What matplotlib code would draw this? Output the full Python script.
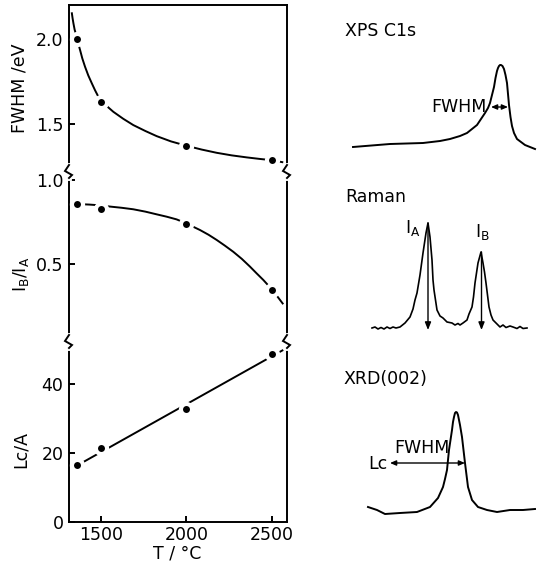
import numpy as np
import matplotlib
matplotlib.use('Agg')
import matplotlib.pyplot as plt
from matplotlib.lines import Line2D

plt.rcParams['font.family'] = ['DejaVu Sans']

# -------------------------------
# left panels: measured points (heat treatment temperature)

temp = [1360, 1500, 2000, 2500]
fwhm_ev = [2.00, 1.63, 1.37, 1.29]
ratio_ba = [0.86, 0.83, 0.74, 0.35]
lc_a = [16.6, 21.6, 32.9, 48.9]

# hand drawn trend lines
fwhm_curve_t = [1328, 1333, 1338, 1345, 1354, 1365, 1377, 1390, 1406, 1425, 1446, 1465, 1484, 1508,
                1540, 1572, 1630, 1689, 1760, 1826, 1910, 2002, 2090, 2178, 2265, 2354, 2430, 2496, 2568]
fwhm_curve_v = [2.157, 2.122, 2.092, 2.055, 2.024, 1.978, 1.935, 1.886, 1.837, 1.786, 1.739, 1.698, 1.661, 1.631,
                1.600, 1.572, 1.531, 1.494, 1.459, 1.429, 1.398, 1.372, 1.350, 1.331, 1.316, 1.304, 1.295, 1.288, 1.275]

ratio_curve_t = [1330, 1360, 1430, 1500, 1553, 1620, 1689, 1760, 1826, 1885, 1943, 1998, 2080, 2130, 2178,
                 2225, 2275, 2325, 2373, 2410, 2451, 2506, 2568]
ratio_curve_v = [0.858, 0.857, 0.854, 0.849, 0.842, 0.835, 0.826, 0.812, 0.796, 0.782, 0.766, 0.743, 0.703, 0.675,
                 0.644, 0.611, 0.574, 0.532, 0.486, 0.448, 0.407, 0.346, 0.263]

lc_line_t = [1330, 2568]
lc_line_v = [15.6, 50.0]

# -------------------------------
# right side: sketch spectra (arbitrary units)

xps_x = [13, 50, 83, 100, 110, 120, 127, 132, 137, 141, 145, 148, 150, 152, 154, 155.5, 157, 158, 159, 160,
         161, 162.5, 164, 165.5, 167, 168, 169, 170.5, 172, 174, 177, 181, 185, 190, 195]
xps_i = [13, 16, 17, 19, 21, 24, 27, 31, 35, 41, 47, 52, 57, 65, 73, 82, 89, 92, 94, 95,
         95, 94, 91, 85, 77, 66, 55, 43, 34, 27, 21, 18, 15, 13, 11]

raman_x = [12, 15, 18, 21, 24, 27, 30, 33, 36, 40, 45, 50, 53, 55, 57, 60, 63, 66, 68,
           70, 72, 73, 74, 77, 80, 83, 87, 92, 95, 98, 100, 103, 107, 109, 112, 113.5,
           115, 116.5, 118, 121, 123, 124.5, 126, 129, 131, 133, 136, 140, 143, 146,
           150, 153, 157, 160, 163, 167]
raman_i = [12, 13, 11, 12.5, 11, 13, 11.5, 13, 12, 13, 17, 23, 31, 40, 47, 65, 87, 107, 117,
           103, 80, 60, 50, 30, 24, 22, 18, 17, 15, 16.5, 15, 17, 20, 26, 33, 43,
           57, 67, 77, 88, 77, 68, 57, 33, 25, 20, 17, 13, 15, 12.5,
           14, 13, 11.5, 13.5, 11.5, 12]

xrd_x = [18, 27, 35, 50, 67, 80, 88, 93, 95, 97, 99, 100.5, 102, 103, 104, 105, 106, 107, 108, 110,
         112, 115, 118, 122, 128, 137, 147, 160, 173, 185]
xrd_i = [13, 10, 6, 7, 8, 13, 22, 33, 41, 50, 70, 80, 90, 98, 103, 107, 108, 107.5, 105, 95,
         83, 57, 33, 20, 13, 10, 8, 10, 10, 11]

# -------------------------------

W, H = 539, 571
fig = plt.figure(figsize=(W/100, H/100), dpi=100)

x_left, x_right = 69, 287
y_top, y_b1, y_b2, y_bot = 5, 171, 341, 522

def px_axes(x0, x1, y0, y1):
    return fig.add_axes([x0/W, 1-y1/H, (x1-x0)/W, (y1-y0)/H])

ax1 = px_axes(x_left, x_right, y_top, y_b1)
ax2 = px_axes(x_left, x_right, y_b1, y_b2)
ax3 = px_axes(x_left, x_right, y_b2, y_bot)

lw = 1.4
fs = 12.5

for ax in (ax1, ax2, ax3):
    ax.set_xlim(1312, 2590)
    for sp in ax.spines.values():
        sp.set_linewidth(lw)
    ax.tick_params(direction='in', length=4.5, width=lw, labelsize=fs, pad=4)
    ax.patch.set_alpha(0)
ax3.tick_params(axis='x', pad=3)

ax1.spines['bottom'].set_visible(False)
ax2.spines['top'].set_visible(False)
ax2.spines['bottom'].set_visible(False)
ax3.spines['top'].set_visible(False)
for ax in (ax1, ax2):
    ax.tick_params(axis='x', bottom=False, labelbottom=False)

ax1.set_ylim(1.224, 2.2)
ax1.set_yticks([1.5, 2.0], ['1.5', '2.0'])
ax2.set_ylim(0.045, 1.053)
ax2.set_yticks([0.5, 1.0], ['0.5', '1.0'])
ax3.set_ylim(0, 52.6)
ax3.set_yticks([0, 20, 40], ['0', '20', '40'])
ax3.set_xticks([1500, 2000, 2500], ['1500', '2000', '2500'])

def trend(ax, tt, vv, pt, pv):
    ax.plot(tt, vv, color='black', lw=lw, zorder=2, solid_capstyle='butt')
    ax.plot(pt, pv, 'o', color='white', markersize=11, markeredgewidth=0, zorder=3, clip_on=False)
    ax.plot(pt, pv, 'o', color='black', markersize=5, markeredgewidth=0, zorder=4, clip_on=False)

trend(ax1, fwhm_curve_t, fwhm_curve_v, temp, fwhm_ev)
trend(ax2, ratio_curve_t, ratio_curve_v, temp, ratio_ba)
trend(ax3, lc_line_t, lc_line_v, temp, lc_a)

# axis break marks
zig = [(0, -6), (-4, 0), (3, 4), (0, 7)]
for yb in (y_b1, y_b2):
    for xs in (x_left, x_right):
        fig.add_artist(Line2D([xs/W, xs/W], [1-(yb-6)/H, 1-(yb+7)/H], transform=fig.transFigure,
                              color='white', lw=3.5, zorder=10))
        fig.add_artist(Line2D([(xs+dx)/W for dx, dy in zig], [1-(yb+dy)/H for dx, dy in zig],
                              transform=fig.transFigure, color='black', lw=lw, zorder=11,
                              solid_joinstyle='miter'))

fig.text(20/W, 1-88/H, 'FWHM /eV', rotation=90, ha='center', va='center', fontsize=fs)
fig.text(21/W, 1-274/H, r'$\mathregular{I_B/I_A}$', rotation=90, ha='center', va='center', fontsize=fs)
fig.text(21/W, 1-450/H, 'Lc/A', rotation=90, ha='center', va='center', fontsize=fs)
fig.text(176.7/W, 1-553/H, 'T / °C', ha='center', va='center', fontsize=fs)

# -------------------------------
# spectra sketches

ax_xps = px_axes(340, 540, 50, 160)
ax_xps.set_xlim(0, 200)
ax_xps.set_ylim(0, 110)
ax_ram = px_axes(360, 540, 210, 340)
ax_ram.set_xlim(0, 180)
ax_ram.set_ylim(0, 130)
ax_xrd = px_axes(350, 540, 400, 520)
ax_xrd.set_xlim(0, 190)
ax_xrd.set_ylim(0, 120)
for ax in (ax_xps, ax_ram, ax_xrd):
    ax.axis('off')

two_head = dict(arrowstyle='<|-|>,head_length=0.35,head_width=0.15', color='black', lw=1.0,
                shrinkA=0, shrinkB=0)
one_head = dict(arrowstyle='-|>,head_length=0.45,head_width=0.18', color='black', lw=1.0,
                shrinkA=0, shrinkB=0)

ax_xps.plot(xps_x, xps_i, color='black', lw=lw)
ax_xps.annotate('', xy=(168, 53), xytext=(151, 53), arrowprops=two_head)
ax_xps.text(147, 53, 'FWHM', ha='right', va='center', fontsize=fs)

ax_ram.plot(raman_x, raman_i, color='black', lw=1.2)
ax_ram.annotate('', xy=(68, 10), xytext=(68, 117), arrowprops=one_head)
ax_ram.annotate('', xy=(121.5, 10), xytext=(121.5, 88), arrowprops=one_head)
ax_ram.text(45, 107, r'$\mathregular{I_A}$', ha='left', va='baseline', fontsize=fs)
ax_ram.text(115, 103, r'$\mathregular{I_B}$', ha='left', va='baseline', fontsize=fs)

ax_xrd.plot(xrd_x, xrd_i, color='black', lw=lw)
ax_xrd.annotate('', xy=(115, 57), xytext=(40, 57), arrowprops=two_head)
ax_xrd.text(38, 56, 'Lc', ha='right', va='center', fontsize=fs)
ax_xrd.text(71.5, 72, 'FWHM', ha='center', va='center', fontsize=fs)

fig.text(345/W, 1-31/H, 'XPS C1s', ha='left', va='center', fontsize=fs)
fig.text(345/W, 1-197/H, 'Raman', ha='left', va='center', fontsize=fs)
fig.text(343/W, 1-379/H, 'XRD(002)', ha='left', va='center', fontsize=fs)

plt.savefig('out.png', dpi=100)
plt.close('all')
